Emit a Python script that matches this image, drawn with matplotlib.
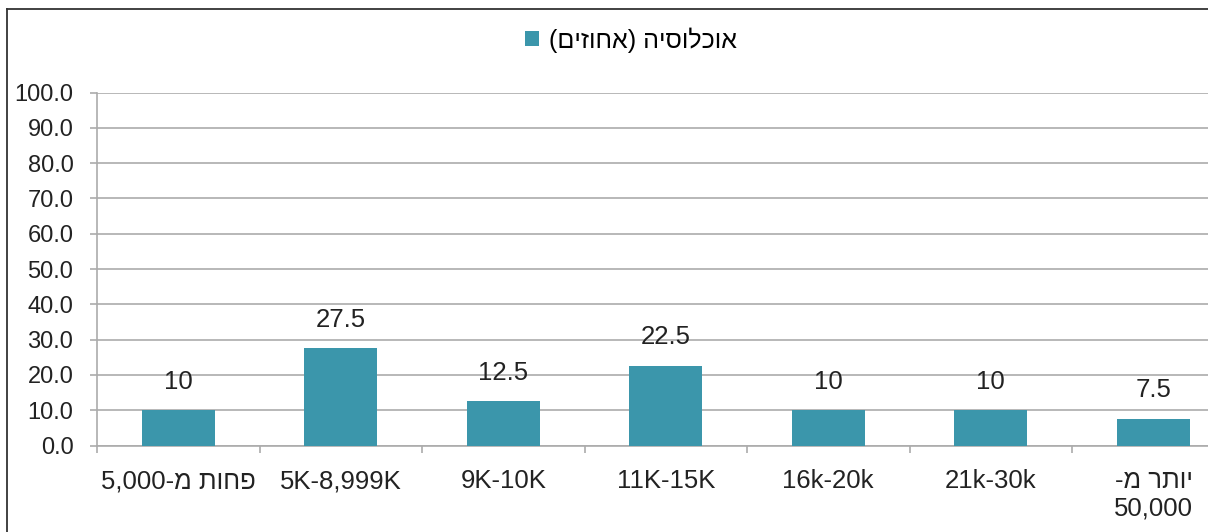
import numpy as np
import matplotlib
matplotlib.use("Agg")
from matplotlib import pyplot as plt
from matplotlib.lines import Line2D

plt.rcParams['font.family'] = ['Liberation Sans', 'DejaVu Sans']

# income brackets (Hebrew written in visual order, since matplotlib has no bidi)
categories = ["5,000-מ תוחפ", "5K-8,999K", "9K-10K", "11K-15K", "16k-20k", "21k-30k", "-מ רתוי\n50,000"]
values = [10, 27.5, 12.5, 22.5, 10, 10, 7.5]
value_labels = ["10", "27.5", "12.5", "22.5", "10", "10", "7.5"]
series_name = "(םיזוחא) היסולכוא"
y_ticks = np.arange(0, 101, 10)

bar_color = "#3b96ab"
grid_color = "#ababab"
text_color = "#222222"

fig = plt.figure(figsize=(12.08, 5.32), dpi=100)
ax = fig.add_axes([97 / 1208, 1 - 445.5 / 532, 1137.5 / 1208, 353 / 532])

x = np.arange(len(categories))
bars = ax.bar(x, values, width=0.45, color=bar_color, zorder=3, label=series_name)

for xi, v, lab in zip(x, values, value_labels):
    ax.annotate(lab, (xi, v), xytext=(0, 12), textcoords="offset points",
                ha="center", va="bottom", fontsize=18.5, color=text_color)

ax.set_xlim(-0.5, len(categories) - 0.5)
ax.set_ylim(0, 100)
ax.set_yticks(y_ticks)
ax.set_yticklabels(["%.1f" % t for t in y_ticks])
ax.yaxis.grid(True, color=grid_color, linewidth=1.2, zorder=0)

# ticks on category boundaries, labels in the middle
ax.set_xticks(np.arange(-0.5, len(categories), 1))
ax.set_xticklabels([])
ax.set_xticks(x, minor=True)
ax.set_xticklabels(categories, minor=True, multialignment="right")
ax.tick_params(axis="x", which="major", length=5, width=1.2, color=grid_color)
ax.tick_params(axis="x", which="minor", length=0, pad=17, labelsize=18.5, labelcolor=text_color)
ax.tick_params(axis="y", length=5, width=1.2, color=grid_color, pad=12, labelsize=17, labelcolor=text_color)

for side in ["top", "right"]:
    ax.spines[side].set_visible(False)
for side in ["left", "bottom"]:
    ax.spines[side].set_color(grid_color)
    ax.spines[side].set_linewidth(1.2)

fig.legend(handles=[bars], labels=[series_name], loc="center",
           bbox_to_anchor=(631 / 1208, 1 - 40 / 532), frameon=False,
           fontsize=18, handlelength=0.55, handleheight=0.55, handletextpad=0.4)

# outer chart frame
fig.add_artist(Line2D([7 / 1208, 1.0], [1 - 9 / 532, 1 - 9 / 532], transform=fig.transFigure,
                      color="#333333", linewidth=1.3))
fig.add_artist(Line2D([7 / 1208, 7 / 1208], [0.0, 1 - 9 / 532], transform=fig.transFigure,
                      color="#333333", linewidth=1.3))

fig.savefig("out.png", dpi=100)
